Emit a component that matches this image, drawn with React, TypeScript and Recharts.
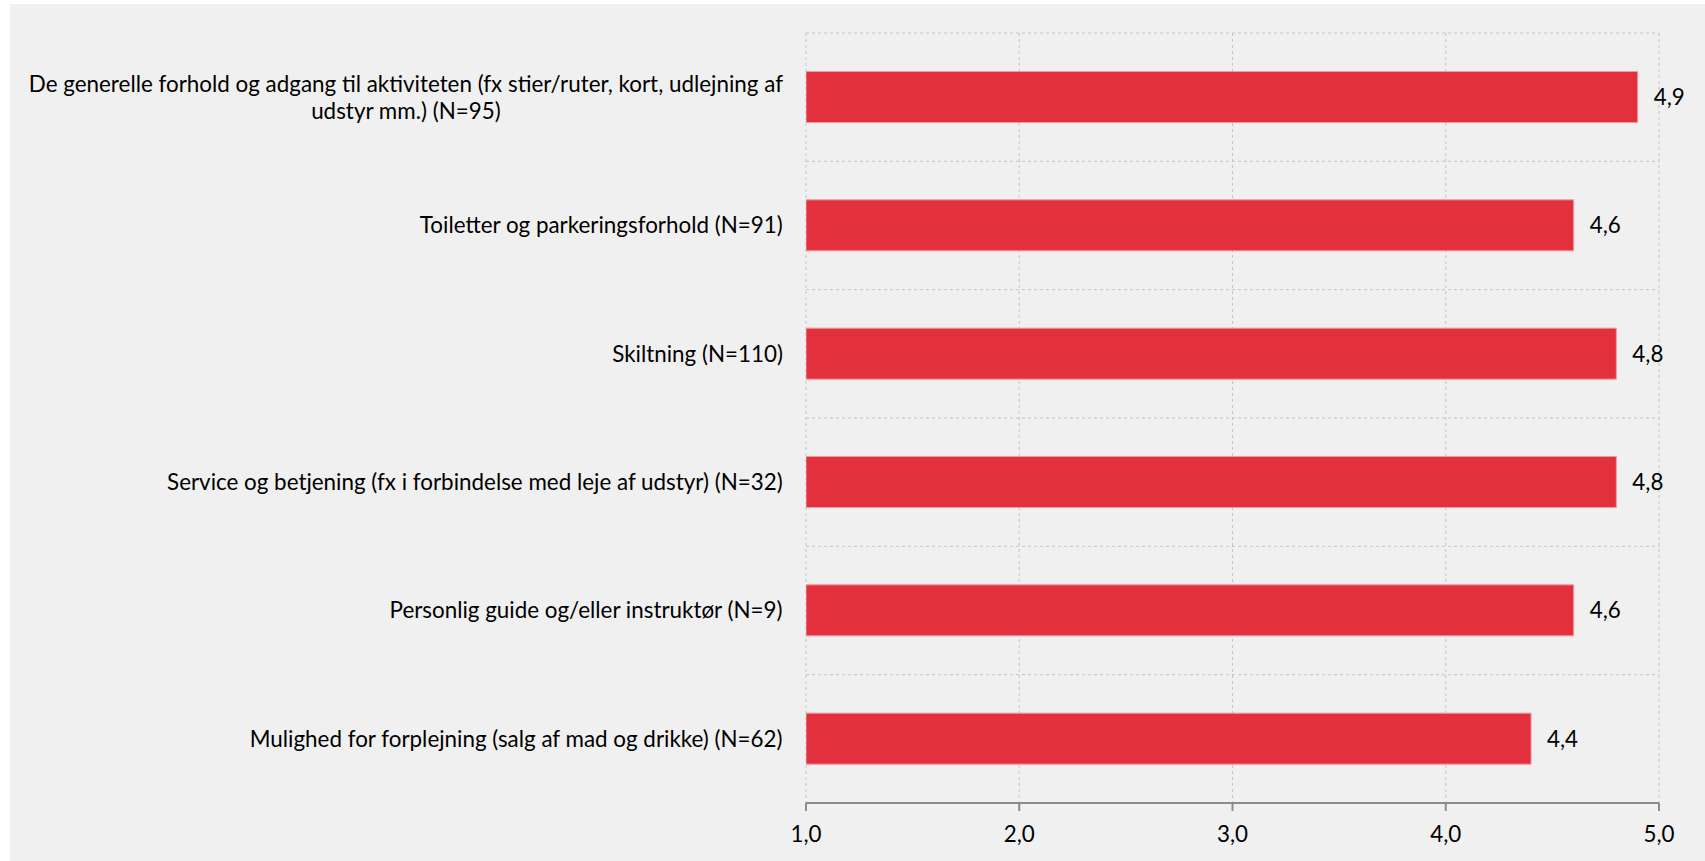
import React from 'react';
import { BarChart, Bar, XAxis, YAxis, CartesianGrid, LabelList } from 'recharts';

const categories = [
  'De generelle forhold og adgang til aktiviteten (fx stier/ruter, kort, udlejning af\nudstyr mm.) (N=95)',
  'Toiletter og parkeringsforhold (N=91)',
  'Skiltning (N=110)',
  'Service og betjening (fx i forbindelse med leje af udstyr) (N=32)',
  'Personlig guide og/eller instruktør (N=9)',
  'Mulighed for forplejning (salg af mad og drikke) (N=62)',
];
const values = [4.9, 4.6, 4.8, 4.8, 4.6, 4.4];
const xTicks = [1, 2, 3, 4, 5];

const data = categories.map((c, i) => ({ name: c, value: values[i] }));

const FONT = 'Lato, "Open Sans", sans-serif';
const FONT_SIZE = 22.4;

let ctx: CanvasRenderingContext2D | null = null;
function measure(s: string): number {
  if (!ctx) {
    const c = document.createElement('canvas');
    ctx = c.getContext('2d');
  }
  if (!ctx) return s.length * 9;
  ctx.font = `${FONT_SIZE}px ${FONT}`;
  return ctx.measureText(s).width;
}

const fmt = (v: any) => Number(v).toFixed(1).replace('.', ',');

function YTick(props: any) {
  const { x, y, payload } = props;
  const lines = String(payload.value).split('\n');
  const maxW = Math.max(...lines.map(measure));
  const cx = x - maxW / 2;
  const lh = 27;
  const startY = y - ((lines.length - 1) * lh) / 2;
  return (
    <text textAnchor="middle" fill="#000" fontSize={FONT_SIZE} fontFamily={FONT}>
      {lines.map((l, i) => (
        <tspan key={i} x={cx} y={startY + i * lh} dy="0.35em">
          {l}
        </tspan>
      ))}
    </text>
  );
}

export default function App() {
  const gridGen = ({ offset }: any) => {
    const arr: number[] = [];
    for (let i = 0; i <= categories.length; i++) {
      arr.push(offset.top + (i * offset.height) / categories.length);
    }
    return arr;
  };
  return (
    <div style={{ position: 'absolute', left: 0, top: 0, width: 1705, height: 861, background: '#ffffff' }}>
      <div style={{ position: 'absolute', left: 10, top: 4, right: 0, bottom: 0, background: '#f0f0f0' }} />
      <div style={{ position: 'absolute', left: 0, top: 0 }}>
        <BarChart
          width={1705}
          height={861}
          data={data}
          layout="vertical"
          margin={{ top: 33, right: 46, left: 0, bottom: 18 }}
          barCategoryGap="30%"
        >
          <CartesianGrid
            stroke="#c4c4c4"
            strokeDasharray="3 3"
            horizontalCoordinatesGenerator={gridGen}
          />
          <XAxis
            type="number"
            domain={[1, 5]}
            ticks={xTicks}
            allowDataOverflow
            tickFormatter={fmt}
            height={40}
            axisLine={{ stroke: '#8c8c8c', strokeWidth: 2 }}
            tickLine={{ stroke: '#8c8c8c', strokeWidth: 2 }}
            tickSize={8}
            tickMargin={15}
            tick={{ fill: '#000', fontSize: FONT_SIZE, fontFamily: FONT }}
          />
          <YAxis
            type="category"
            dataKey="name"
            width={806}
            axisLine={false}
            tickLine={false}
            tickSize={0}
            tickMargin={23}
            interval={0}
            tick={<YTick />}
          />
          <Bar dataKey="value" fill="#e2303d" stroke="#f09aa0" strokeWidth={1} isAnimationActive={false}>
            <LabelList
              dataKey="value"
              position="right"
              offset={16}
              formatter={fmt}
              fill="#000"
              fontSize={FONT_SIZE}
              fontFamily={FONT}
            />
          </Bar>
        </BarChart>
      </div>
    </div>
  );
}
